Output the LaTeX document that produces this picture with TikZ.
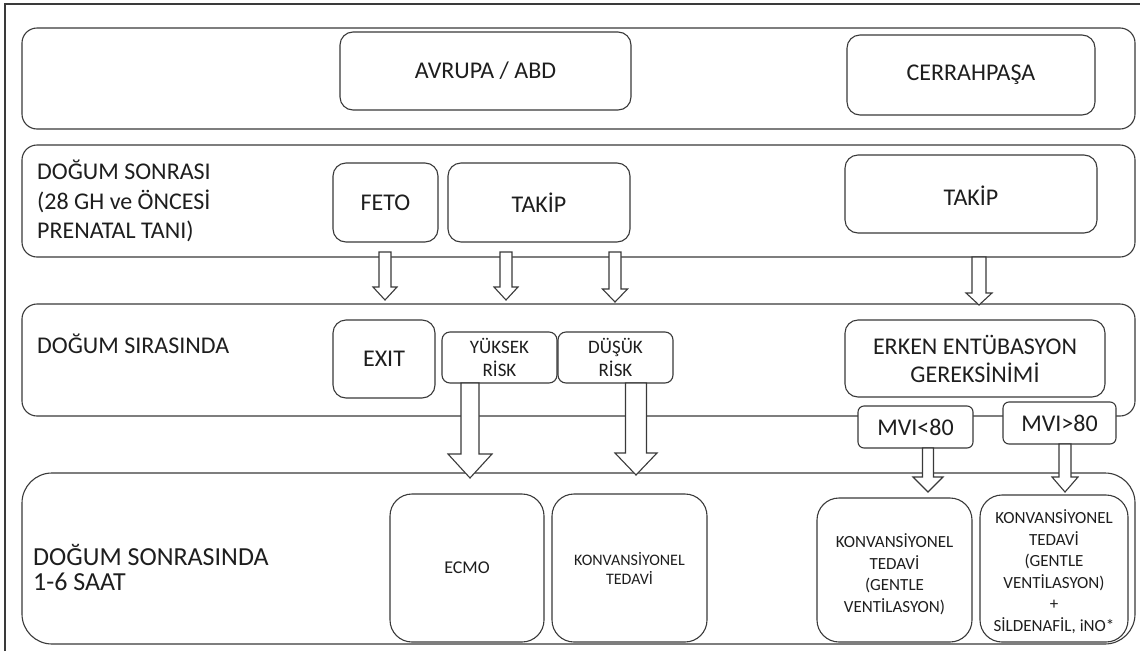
\documentclass[tikz,border=0pt]{standalone}
\usepackage{fontspec}
\setmainfont{Carlito}
\usetikzlibrary{calc,fit}
\definecolor{ln}{HTML}{3A3A3A}
\definecolor{tx}{HTML}{1E1E1E}
\newcommand\fs[2]{\fontsize{#1}{#2}\selectfont}
\newcommand\blockarrow[5]{%
  \draw[arrowbody] let \p1=(#1), \p2=(#2) in
    (\x1-#3pt,\y1) -- (\x1-#3pt,\y2+#5pt) -- (\x1-#4pt,\y2+#5pt) -- (\x2,\y2)
    -- (\x1+#4pt,\y2+#5pt) -- (\x1+#3pt,\y2+#5pt) -- (\x1+#3pt,\y1) -- cycle;}
\begin{document}
\begin{tikzpicture}[x=1pt,y=-1pt,
  every node/.style={text=tx},
  band/.style={draw=ln, line width=1.1pt, rounded corners=15pt, inner sep=0pt},
  bigband/.style={band, rounded corners=30pt},
  box/.style={draw=ln, line width=1.1pt, rounded corners=13pt, inner sep=0pt, align=center, font=\fs{24}{28}},
  smallbox/.style={box, rounded corners=8pt, font=\fs{19}{23}},
  mvibox/.style={box, rounded corners=6pt, font=\fs{24}{28}},
  tallbox/.style={box, rounded corners=22pt, font=\fs{16}{19}},
  rightbox/.style={box, rounded corners=22pt, font=\fs{17}{21.5}},
  sidelabel/.style={anchor=west, align=left, inner sep=0pt, font=\fs{24}{29.5}},
  arrowbody/.style={draw=ln, line width=1.1pt, fill=white, line join=miter}
]
\useasboundingbox (0,0) rectangle (1140,651);
\fill[white] (0,0) rectangle (1140,651);
\draw[ln, line width=1.1pt] (5,651) -- (5,4) -- (1140,4);

% bands
\node[band, fit={(22,28) (1135,129)}] (b1) {};
\node[band, fit={(22,145) (1135,257)}] (b2) {};
\node[band, fit={(22,304) (1135,416)}] (b3) {};
\node[bigband, fit={(22,473) (1135,644)}] (b4) {};

% side labels
\node[sidelabel] (l2) at (37,201) {DOĞUM SONRASI\\(28 GH ve ÖNCESİ\\PRENATAL TANI)};
\node[sidelabel] (l3) at (37,344) {DOĞUM SIRASINDA};
\node[sidelabel, font=\fs{26}{25}] (l4) at (33,567) {DOĞUM SONRASINDA\\1-6 SAAT};

% row 1
\node[box, fit={(340,32) (631,110)}] (avrupa) {};
\node (avrupat) at (avrupa.center) [font=\fs{24}{28}] {AVRUPA / ABD};
\node[box, fit={(847,35) (1095,115)}] (cerrah) {};
\node (cerraht) at (cerrah.center) [font=\fs{24}{28}] {CERRAHPAŞA};

% row 2
\node[box, fit={(333,163) (438,242)}] (feto) {};
\node (fetot) at (feto.center) [font=\fs{24}{28}] {FETO};
\node[box, fit={(448,163) (630,242)}] (takip1) {};
\node (takip1t) at (takip1.center) [font=\fs{24}{28}] {TAKİP};
\node[box, fit={(845,155) (1097,233)}] (takip2) {};
\node (takip2t) at ($(takip2.center)+(0,2)$) [font=\fs{24}{28}] {TAKİP};

% row 3
\node[box, fit={(333,320) (435,398)}] (exit) {};
\node (exitt) at (exit.center) [font=\fs{24}{28}] {EXIT};
\node[smallbox, fit={(442,332) (557,383)}] (yuksek) {};
\node (yuksekt) at (yuksek.center) [align=center, font=\fs{19}{23}] {YÜKSEK\\RİSK};
\node[smallbox, fit={(558,332) (673,383)}] (dusuk) {};
\node (dusukt) at (dusuk.center) [align=center, font=\fs{19}{23}] {DÜŞÜK\\RİSK};
\node[box, fit={(845,320) (1105,397)}] (erken) {};
\node (erkent) at (erken.center) [align=center, font=\fs{24}{28}] {ERKEN ENTÜBASYON\\GEREKSİNİMİ};
\node[mvibox, fill=white, fit={(858,406) (973,448)}] (mvi1) {};
\node (mvi1t) at (mvi1.center) [font=\fs{24}{28}] {MVI<80};
\node[mvibox, fill=white, fit={(1003,402) (1116,444)}] (mvi2) {};
\node (mvi2t) at (mvi2.center) [font=\fs{24}{28}] {MVI>80};

% row 4
\node[tallbox, fit={(390,494) (544,642)}] (ecmo) {};
\node (ecmot) at (ecmo.center) [font=\fs{18}{21}] {ECMO};
\node[tallbox, fit={(552,494) (707,642)}] (konv) {};
\node (konvt) at (konv.center) [align=center, font=\fs{16}{19}] {KONVANSİYONEL\\TEDAVİ};
\node[rightbox, fit={(817,498) (972,642)}] (konva) {};
\node (konvat) at ($(konva.center)+(0,4)$) [align=center, font=\fs{17}{21.5}] {KONVANSİYONEL\\TEDAVİ\\(GENTLE\\VENTİLASYON)};
\node[rightbox, fit={(980,495) (1128,642)}] (konvb) {};
\node (konvbt) at ($(konvb.center)+(0,3)$) [align=center, font=\fs{17}{21.5}] {KONVANSİYONEL\\TEDAVİ\\(GENTLE\\VENTİLASYON)\\+\\SİLDENAFİL, iNO*};

% arrow anchor coordinates
\coordinate (a1s) at (385,252);  \coordinate (a1e) at (385,300);
\coordinate (a2s) at (506,252);  \coordinate (a2e) at (506,300);
\coordinate (a3s) at (615,252);  \coordinate (a3e) at (615,302);
\coordinate (a4s) at (979,257);  \coordinate (a4e) at (979,305);
\coordinate (a5s) at (470,383);  \coordinate (a5e) at (470,478);
\coordinate (a6s) at (636,383);  \coordinate (a6e) at (636,475);
\coordinate (a7s) at (928,448);  \coordinate (a7e) at (928,492);
\coordinate (a8s) at (1065,444); \coordinate (a8e) at (1065,492);

\blockarrow{a1s}{a1e}{6}{12}{13}
\blockarrow{a2s}{a2e}{6}{12}{13}
\blockarrow{a3s}{a3e}{6}{12.5}{13}
\blockarrow{a4s}{a4e}{7}{13}{12}
\blockarrow{a5s}{a5e}{9}{22}{24}
\blockarrow{a6s}{a6e}{10.5}{21}{22}
\blockarrow{a7s}{a7e}{5.5}{15}{15}
\blockarrow{a8s}{a8e}{6}{13}{15}
\end{tikzpicture}
\end{document}
